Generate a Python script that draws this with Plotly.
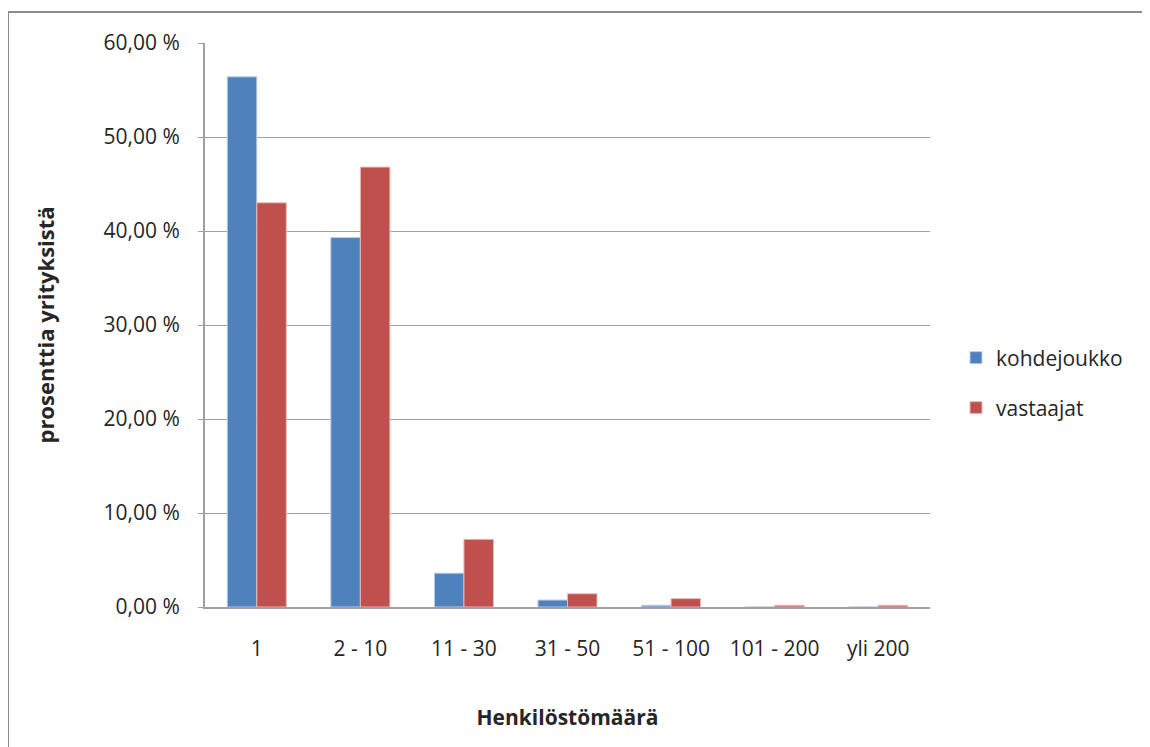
import plotly.graph_objects as go

categories = ["1", "2 - 10", "11 - 30", "31 - 50", "51 - 100", "101 - 200", "yli 200"]
kohdejoukko = [0.564, 0.393, 0.036, 0.0074, 0.0018, 0.0, 0.0]
vastaajat = [0.430, 0.468, 0.072, 0.0141, 0.0089, 0.0018, 0.0018]
tick_vals = [0, 0.1, 0.2, 0.3, 0.4, 0.5, 0.6]
tick_text = ["0,00 %", "10,00 %", "20,00 %", "30,00 %", "40,00 %", "50,00 %", "60,00 %"]

# page body has an 8px margin; the figure starts at page (8, 8)
OFF = 8
W, H = 1150 - OFF, 747 - OFF
PL, PR, PT, PB = 205, 930, 43, 607  # plot area in page pixels
L, T = PL - OFF, PT - OFF
R = (W + OFF) - PR
B = (H + OFF) - PB
pw, ph = PR - PL, PB - PT


def py(p):
    return (PB - p) / ph


def px(p):
    return (p - PL) / pw


fig = go.Figure()
fig.add_trace(go.Bar(name="kohdejoukko", x=categories, y=kohdejoukko, legend="legend",
                     showlegend=True,
                     marker=dict(color="#4f81bd", line=dict(color="#b9cde5", width=1))))
fig.add_trace(go.Bar(name="vastaajat", x=categories, y=vastaajat, legend="legend2",
                     showlegend=True,
                     marker=dict(color="#c0504d", line=dict(color="#e6b9b8", width=1))))

font = "Open Sans, sans-serif"
leg = dict(xanchor="left", yanchor="middle", font=dict(size=21), itemwidth=30,
           bgcolor="rgba(0,0,0,0)", visible=True)
fig.update_layout(
    width=W, height=H, showlegend=True,
    margin=dict(l=L, r=R, t=T, b=B, autoexpand=False),
    paper_bgcolor="white", plot_bgcolor="white",
    barmode="group", bargap=0.43, bargroupgap=0,
    font=dict(family=font, size=21, color="#262626"),
    legend=dict(x=px(956), y=py(358), **leg),
    legend2=dict(x=px(956), y=py(408), **leg),
    xaxis=dict(showline=True, linecolor="#a0a0a0", linewidth=2, tickfont=dict(size=21),
               ticks="", automargin=False, ticklabelstandoff=22,
               title=dict(text="<b>Henkilöstömäärä</b>", font=dict(size=21), standoff=49)),
    yaxis=dict(range=[0, 0.6], tickvals=tick_vals, ticktext=tick_text, automargin=False,
               showgrid=True, gridcolor="#a0a0a0", gridwidth=1,
               showline=True, linecolor="#a0a0a0", linewidth=2,
               ticks="outside", ticklen=5, tickcolor="#a0a0a0",
               tickfont=dict(size=21), ticklabelstandoff=14,
               title=dict(text="<b>prosenttia yrityksistä</b>", font=dict(size=22), standoff=43)),
    shapes=[dict(type="rect", xref="paper", yref="paper",
                 x0=px(8), x1=px(1160), y0=py(760), y1=py(12),
                 line=dict(color="#8c8c8c", width=2), layer="below")],
)
fig.write_html("out.html")
